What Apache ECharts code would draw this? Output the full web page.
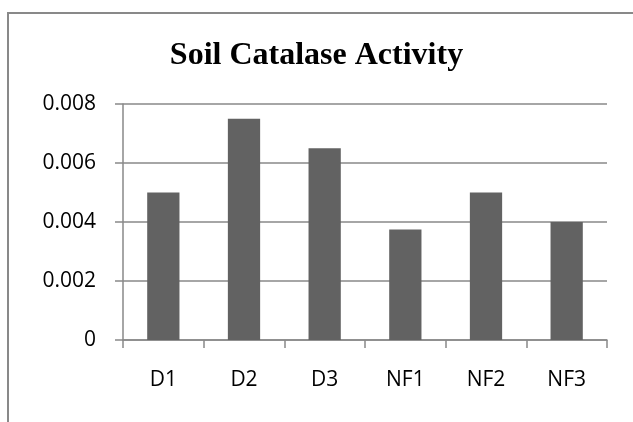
<!DOCTYPE html>
<html>
<head>
<meta charset="utf-8">
<script src="https://cdn.jsdelivr.net/npm/echarts@6/dist/echarts.min.js"></script>
<style>
html,body{margin:0;padding:0;background:#fff;}
#c{width:633px;height:422px;}
</style>
</head>
<body>
<div id="c"></div>
<script>
var titleText = 'Soil Catalase Activity';
var categories = ['D1', 'D2', 'D3', 'NF1', 'NF2', 'NF3'];
var catalase = [0.005, 0.0075, 0.0065, 0.00375, 0.005, 0.004];
var yTicks = [0, 0.002, 0.004, 0.006, 0.008];

var chart = echarts.init(document.getElementById('c'), null, {renderer: 'canvas'});
var lineColor = '#898989';
chart.setOption({
  animation: false,
  backgroundColor: '#ffffff',
  title: {
    text: titleText,
    left: 'center',
    top: 35,
    textStyle: {fontFamily: 'Liberation Serif', fontWeight: 'bold', fontSize: 32, color: '#000'}
  },
  graphic: [{
    type: 'rect',
    shape: {x: 8, y: 13, width: 800, height: 600},
    style: {fill: 'none', stroke: lineColor, lineWidth: 2},
    silent: true
  }],
  grid: {left: 123, right: 26, top: 104, bottom: 82, containLabel: false},
  xAxis: {
    type: 'category',
    data: categories,
    axisLine: {lineStyle: {color: lineColor, width: 1.5}},
    axisTick: {show: true, length: 8, lineStyle: {color: lineColor, width: 1.5}},
    axisLabel: {margin: 30, fontFamily: 'Open Sans', fontSize: 21, color: '#000'}
  },
  yAxis: {
    type: 'value',
    min: yTicks[0],
    max: yTicks[yTicks.length - 1],
    interval: yTicks[1] - yTicks[0],
    axisLine: {show: true, lineStyle: {color: lineColor, width: 1.5}},
    axisTick: {show: true, length: 8, lineStyle: {color: lineColor, width: 1.5}},
    splitLine: {show: true, lineStyle: {color: lineColor, width: 1.5}},
    axisLabel: {
      margin: 27, fontFamily: 'Open Sans', fontSize: 21, color: '#000',
      formatter: function (v) { return String(+v.toFixed(3)); }
    }
  },
  series: [{
    type: 'bar',
    data: catalase,
    barWidth: '40%',
    itemStyle: {color: '#626262'}
  }]
});
</script>
</body>
</html>
